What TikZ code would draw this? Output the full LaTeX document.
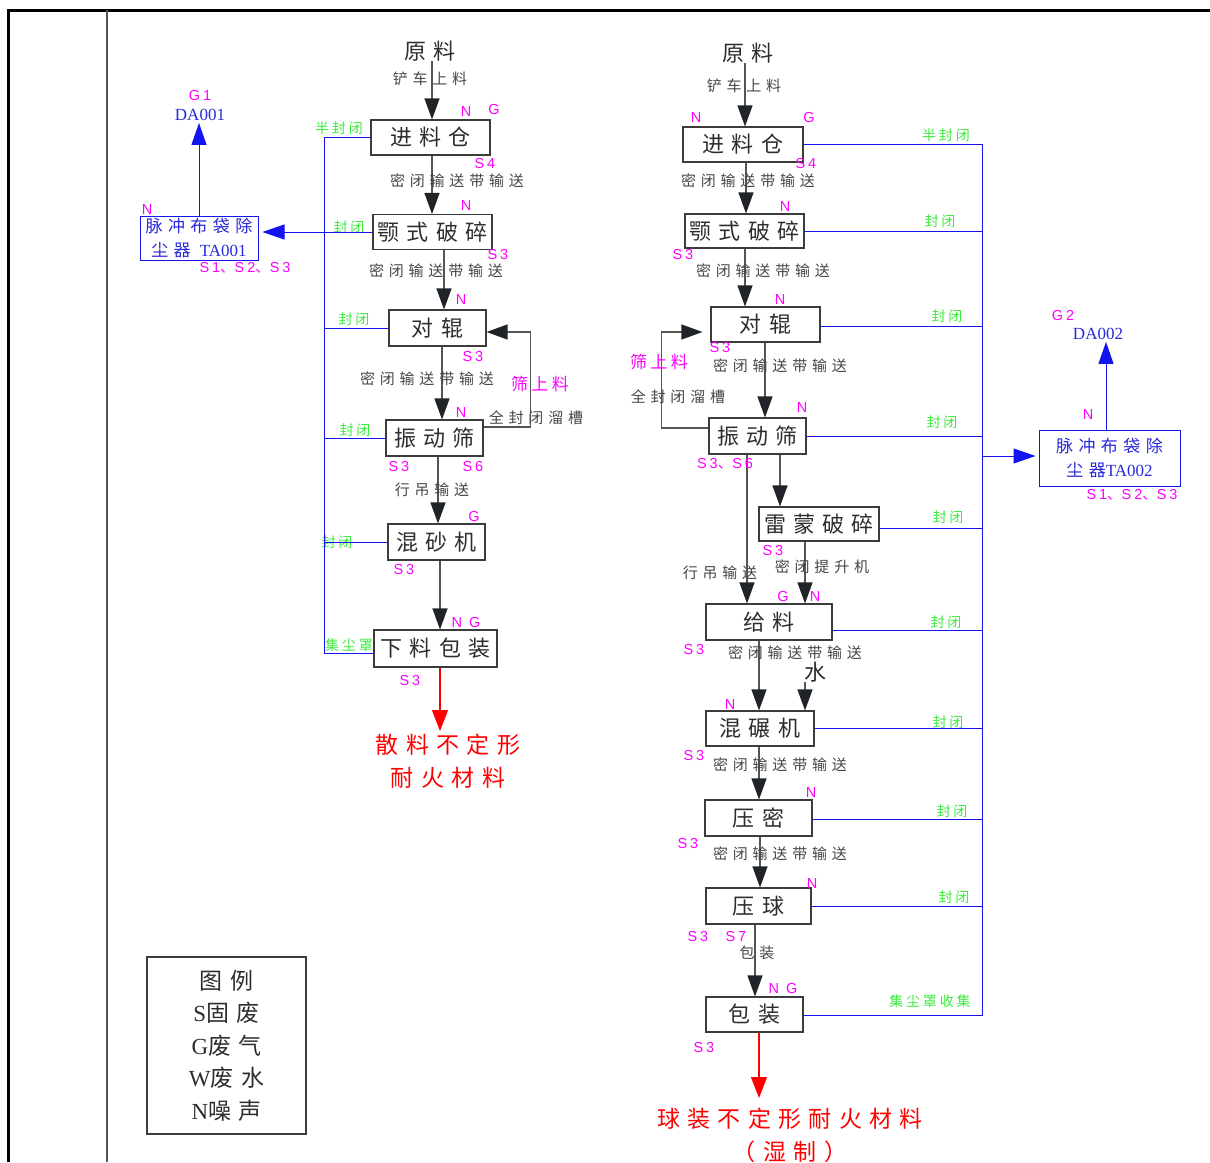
\documentclass[tikz,border=0pt]{standalone}
\usepackage{fontspec}
\usetikzlibrary{arrows.meta}
\newfontfamily\cjkA[LetterSpace=32]{Noto Sans CJK SC}
\newfontfamily\cjkB[LetterSpace=20]{Noto Sans CJK SC}
\newfontfamily\cjkC{Noto Sans CJK SC}
\newfontfamily\magf[LetterSpace=20]{Liberation Sans}
\newfontfamily\serf{Liberation Serif}
\definecolor{boxc}{RGB}{60,60,60}
\definecolor{txtc}{RGB}{45,45,45}
\definecolor{labc}{RGB}{70,70,70}
\definecolor{linec}{RGB}{85,85,85}
\definecolor{headc}{RGB}{32,36,40}
\definecolor{bluec}{RGB}{20,20,240}
\definecolor{bluetxt}{RGB}{40,40,220}
\definecolor{grnc}{RGB}{60,235,60}
\definecolor{magc}{RGB}{255,0,255}
\definecolor{redc}{RGB}{255,0,0}
\tikzset{
  box/.style={draw=boxc, line width=1.1pt, text=txtc, inner sep=0pt,
    font=\cjkA\fontsize{22}{26}\selectfont},
  flow/.style={draw=linec, line width=1.2pt, -{Triangle[length=21pt,width=15pt,color=headc]}},
  bflow/.style={draw=bluec, line width=1pt, -{Triangle[length=22pt,width=15pt]}},
  rflow/.style={draw=redc, line width=1.2pt, -{Triangle[length=21pt,width=16pt]}},
  bline/.style={draw=bluec, line width=1pt},
  mag/.style={text=magc, inner sep=0pt, font=\magf\fontsize{14.5}{16}\selectfont},
  grn/.style={text=grnc, inner sep=0pt, font=\cjkB\fontsize{14}{16}\selectfont},
  lab/.style={text=labc, inner sep=0pt, font=\cjkA\fontsize{15}{18}\selectfont},
  big/.style={text=txtc, inner sep=0pt, font=\cjkA\fontsize{22}{26}\selectfont},
  outp/.style={text=redc, inner sep=0pt, align=center, font=\cjkA\fontsize{23}{33}\selectfont},
  dust/.style={draw=bluec, line width=1pt, text=bluetxt, inner sep=0pt, align=center,
    font=\cjkA\fontsize{17}{24}\selectfont},
  dtxt/.style={text=bluetxt, inner sep=0pt, font=\serf\fontsize{17}{20}\selectfont},
}
\begin{document}
\begin{tikzpicture}[x=1pt,y=-1pt]
\useasboundingbox (0,0) rectangle (1210,1162);
% frame
\draw[line width=3pt,black] (8,1162) -- (8,10) -- (1210,10);
\draw[line width=1.5pt,linec] (107,10) -- (107,1162);

% ---------------- left flow ----------------
\node[big] (L0) at (430,51) {原料};
\node[box,minimum width=119pt,minimum height=35pt] (L1) at (430.5,137.5) {进料仓};
\node[box,minimum width=119pt,minimum height=35pt] (L2) at (432.5,232) {颚式破碎};
\node[box,minimum width=97pt,minimum height=36pt] (L3) at (437.5,328) {对辊};
\node[box,minimum width=97pt,minimum height=36pt] (L4) at (434.5,438) {振动筛};
\node[box,minimum width=97pt,minimum height=36pt] (L5) at (436.5,542) {混砂机};
\node[box,minimum width=123pt,minimum height=37pt] (L6) at (435.5,648.5) {下料包装};
\node[outp,anchor=north] (L7) at (448,734) {散料不定形\\耐火材料};

\draw[flow] (L0.south -| 432,0) -- (L1.north -| 432,0);
\draw[flow] (L1.south -| 432,0) -- (L2.north -| 432,0);
\draw[flow] (L2.south -| 444,0) -- (L3.north -| 444,0);
\draw[flow] (L3.south -| 442,0) -- (L4.north -| 442,0);
\draw[flow] (L4.south -| 438,0) -- (L5.north -| 438,0);
\draw[flow] (L5.south -| 440,0) -- (L6.north -| 440,0);
\draw[rflow,shorten >=3pt] (L6.south -| 440,0) -- (L7.north -| 440,0);
\draw[flow] (L4.east |- 0,427) -- ++(47,0) |- (L3.east |- 0,332);

\node[lab] (l1) at (430,79) {铲车上料};
\node[mag] (l2) at (466,112) {N};
\node[mag] (l3) at (494,110) {G};
\node[grn] (l4) at (339,128) {半封闭};
\node[lab] (l5) at (457,181) {密闭输送带输送};
\node[mag] (l6) at (485,164) {S4};
\node[mag] (l7) at (466,206) {N};
\node[mag] (l8) at (498,255) {S3};
\node[grn] (l9) at (349,227) {封闭};
\node[lab] (l10) at (436,271) {密闭输送带输送};
\node[mag] (l11) at (461,300) {N};
\node[mag] (l12) at (473,357) {S3};
\node[grn] (l13) at (354,319) {封闭};
\node[lab] (l14) at (427,379) {密闭输送带输送};
\node[text=magc,inner sep=0pt,font=\cjkB\fontsize{17}{20}\selectfont] (l15) at (540,384) {筛上料};
\node[lab] (l16) at (536,418) {全封闭溜槽};
\node[mag] (l17) at (461,413) {N};
\node[mag] (l18) at (399,467) {S3};
\node[mag] (l19) at (473,467) {S6};
\node[grn] (l20) at (355,430) {封闭};
\node[lab] (l21) at (432,490) {行吊输送};
\node[mag] (l22) at (474,517) {G};
\node[mag] (l23) at (404,570) {S3};
\node[grn] (l24) at (337,542) {封闭};
\node[mag] (l25) at (466,622) {N G};
\node[grn] (l26) at (349,645) {集尘罩};
\node[mag] (l27) at (410,680) {S3};

% left dust collector
\coordinate (busL) at (324,138);
\coordinate (busLb) at (324,653);
\node[dust,minimum width=118pt,minimum height=44pt] (TA1) at (199,238) {脉冲布袋除\\尘器 {\serf TA001}};
\node[dtxt] (DA1) at (200,115) {DA001};
\node[mag] (g1) at (200,96) {G1};
\node[mag] (n1) at (147,210) {N};
\node[mag] (s1) at (245,268) {S1{\cjkC 、}S2{\cjkC 、}S3};
\draw[bline] (L1.west) -| (busLb) -- (L6.west |- busLb);
\draw[bline] (L3.west) -- (L3.west -| busL);
\draw[bline] (L4.west) -- (L4.west -| busL);
\draw[bline] (L5.west) -- (L5.west -| busL);
\draw[bflow,shorten >=4pt] (L2.west) -- (TA1.east |- L2.west);
\draw[bflow,shorten >=2pt] (TA1.north -| 199,0) -- (DA1.south -| 199,0);

% ---------------- right flow ----------------
\node[big] (R0) at (748,53) {原料};
\node[box,minimum width=120pt,minimum height=35pt] (R1) at (743,144.5) {进料仓};
\node[box,minimum width=119pt,minimum height=34pt] (R2) at (744.5,231) {颚式破碎};
\node[box,minimum width=109pt,minimum height=35pt] (R3) at (765.5,324.5) {对辊};
\node[box,minimum width=97pt,minimum height=36pt] (R4) at (757.5,436) {振动筛};
\node[box,minimum width=120pt,minimum height=34pt] (R5) at (819,524) {雷蒙破碎};
\node[box,minimum width=126pt,minimum height=36pt] (R6) at (769,622) {给料};
\node[box,minimum width=108pt,minimum height=35pt] (R7) at (760,728.5) {混碾机};
\node[box,minimum width=107pt,minimum height=36pt] (R8) at (758.5,818) {压密};
\node[box,minimum width=105pt,minimum height=36pt] (R9) at (758.5,906) {压球};
\node[box,minimum width=97pt,minimum height=35pt] (R10) at (754.5,1014.5) {包装};
\node[outp,anchor=north] (R11) at (790,1108) {球装不定形耐火材料\\（湿制）};
\node[big] (W) at (815,672) {水};

\draw[flow] (R0.south -| 745,0) -- (R1.north -| 745,0);
\draw[flow] (R1.south -| 746,0) -- (R2.north -| 746,0);
\draw[flow] (R2.south -| 745,0) -- (R3.north -| 745,0);
\draw[flow] (R3.south -| 765,0) -- (R4.north -| 765,0);
\draw[flow] (R4.south -| 747,0) -- (R6.north -| 747,0);
\draw[flow] (R4.south -| 780,0) -- (R5.north -| 780,0);
\draw[flow] (R5.south -| 805,0) -- (R6.north -| 805,0);
\draw[flow] (R6.south -| 759,0) -- (R7.north -| 759,0);
\draw[flow] (W.south -| 805,0) -- (R7.north -| 805,0);
\draw[flow] (R7.south -| 759,0) -- (R8.north -| 759,0);
\draw[flow] (R8.south -| 760,0) -- (R9.north -| 760,0);
\draw[flow] (R9.south -| 755,0) -- (R10.north -| 755,0);
\draw[rflow,shorten >=10pt] (R10.south -| 759,0) -- (R11.north -| 759,0);
\draw[flow,shorten >=8pt] (R4.west |- 0,428) -- ++(-47,0) |- (R3.west |- 0,332);

\node[lab] (r1) at (744,86) {铲车上料};
\node[mag] (r2) at (696,118) {N};
\node[mag] (r3) at (809,118) {G};
\node[grn] (r4) at (946,135) {半封闭};
\node[lab] (r5) at (748,181) {密闭输送带输送};
\node[mag] (r6) at (806,164) {S4};
\node[mag] (r7) at (785,207) {N};
\node[grn] (r8) at (940,221) {封闭};
\node[mag] (r9) at (683,255) {S3};
\node[lab] (r10) at (763,271) {密闭输送带输送};
\node[mag] (r11) at (780,300) {N};
\node[grn] (r12) at (947,316) {封闭};
\node[mag] (r13) at (720,348) {S3};
\node[text=magc,inner sep=0pt,font=\cjkB\fontsize{17}{20}\selectfont] (r14) at (659,362) {筛上料};
\node[lab] (r15) at (678,397) {全封闭溜槽};
\node[lab] (r16) at (780,366) {密闭输送带输送};
\node[mag] (r17) at (802,408) {N};
\node[grn] (r18) at (942,422) {封闭};
\node[mag] (r19) at (725,464) {S3{\cjkC 、}S6};
\node[grn] (r20) at (948,517) {封闭};
\node[mag] (r21) at (773,551) {S3};
\node[lab] (r22) at (822,567) {密闭提升机};
\node[lab] (r23) at (720,573) {行吊输送};
\node[mag] (r24) at (783,597) {G};
\node[mag] (r25) at (815,597) {N};
\node[grn] (r26) at (946,622) {封闭};
\node[mag] (r27) at (694,649) {S3};
\node[lab] (r28) at (795,653) {密闭输送带输送};
\node[mag] (r29) at (730,705) {N};
\node[grn] (r30) at (948,722) {封闭};
\node[mag] (r31) at (694,755) {S3};
\node[lab] (r32) at (780,765) {密闭输送带输送};
\node[mag] (r33) at (811,793) {N};
\node[grn] (r34) at (952,811) {封闭};
\node[mag] (r35) at (688,843) {S3};
\node[lab] (r36) at (780,854) {密闭输送带输送};
\node[mag] (r37) at (812,883) {N};
\node[grn] (r38) at (954,897) {封闭};
\node[mag] (r39) at (698,936) {S3};
\node[mag] (r40) at (736,936) {S7};
\node[lab] (r41) at (757,953) {包装};
\node[mag] (r42) at (783,988) {N G};
\node[grn] (r43) at (930,1001) {集尘罩收集};
\node[mag] (r44) at (704,1047) {S3};

% right dust collector
\coordinate (busR) at (982,144);
\coordinate (busRb) at (982,1015);
\node[dust,minimum width=141pt,minimum height=56pt] (TA2) at (1109.5,458) {脉冲布袋除\\尘器{\serf TA002}};
\node[dtxt] (DA2) at (1098,334) {DA002};
\node[mag] (g2) at (1063,316) {G2};
\node[mag] (n2) at (1088,415) {N};
\node[mag] (s2) at (1132,495) {S1{\cjkC 、}S2{\cjkC 、}S3};
\draw[bline] (R1.east) -| (busRb) -- (R10.east |- busRb);
\draw[bline] (R2.east) -- (R2.east -| busR);
\draw[bline] (R3.east |- 0,326) -- (busR |- 0,326);
\draw[bline] (R4.east) -- (R4.east -| busR);
\draw[bline] (R5.east |- 0,528) -- (busR |- 0,528);
\draw[bline] (R6.east |- 0,630) -- (busR |- 0,630);
\draw[bline] (R7.east) -- (R7.east -| busR);
\draw[bline] (R8.east |- 0,819) -- (busR |- 0,819);
\draw[bline] (R9.east) -- (R9.east -| busR);
\draw[bflow,shorten >=3pt] (busR |- 0,456) -- (TA2.west |- 0,456);
\draw[bflow,shorten >=2pt] (TA2.north -| 1106,0) -- (DA2.south -| 1106,0);

% legend
\node[draw=boxc,line width=1.1pt,minimum width=159pt,minimum height=177pt,text=txtc,align=center,
  inner sep=0pt,font=\cjkA\fontsize{23}{32.5}\selectfont] (LG) at (226.5,1045.5)
  {图例\\{\serf S}固废\\{\serf G}废气\\{\serf W}废水\\{\serf N}噪声};
\end{tikzpicture}
\end{document}
